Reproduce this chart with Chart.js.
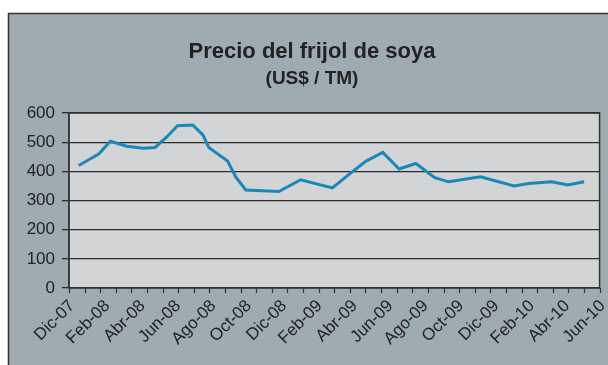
<!DOCTYPE html>
<html>
<head>
<meta charset="utf-8">
<script src="https://cdn.jsdelivr.net/npm/chart.js@4/dist/chart.umd.min.js"></script>
<style>
  html, body { margin: 0; padding: 0; background: #ffffff; }
  #wrap { position: relative; width: 608px; height: 365px; }
</style>
</head>
<body>
<div id="wrap"><canvas id="grafico" width="608" height="365"></canvas></div>
<script>
// Fechas de cotización y precio del frijol de soya (US$ por tonelada métrica)
const fechas = [
  '2007-12-18', '2008-01-22', '2008-02-11', '2008-03-09', '2008-04-07', '2008-04-27',
  '2008-05-17', '2008-06-05', '2008-07-01', '2008-07-19', '2008-07-29', '2008-08-31',
  '2008-09-14', '2008-10-01', '2008-11-27', '2009-01-04', '2009-02-26', '2009-03-29',
  '2009-04-25', '2009-05-24', '2009-06-21', '2009-07-20', '2009-08-22', '2009-09-15',
  '2009-11-09', '2010-01-06', '2010-02-01', '2010-03-10', '2010-04-07', '2010-05-05'
];
const precios = [
  420, 459, 503, 486, 479, 482,
  517, 556, 559, 524, 482, 435,
  380, 336, 331, 371, 343, 393,
  435, 465, 408, 427, 378, 364,
  381, 350, 358, 364, 353, 364
];
// Rótulos bimestrales del eje horizontal
const etiquetasMes = [
  'Dic-07', 'Feb-08', 'Abr-08', 'Jun-08', 'Ago-08', 'Oct-08', 'Dic-08', 'Feb-09',
  'Abr-09', 'Jun-09', 'Ago-09', 'Oct-09', 'Dic-09', 'Feb-10', 'Abr-10', 'Jun-10'
];
const valoresEjeY = [0, 100, 200, 300, 400, 500, 600];
// Número de divisiones menores marcadas bajo el eje horizontal
const divisionesEje = 34;

// Meses transcurridos desde el 1 de diciembre de 2007
function mesesDesdeDic07(fecha) {
  const [a, m, d] = fecha.split('-').map(Number);
  const diasMes = new Date(a, m, 0).getDate();
  return (a - 2007) * 12 + (m - 12) + (d - 1) / diasMes;
}

const puntos = fechas.map((f, i) => ({ x: mesesDesdeDic07(f), y: precios[i] }));

const fondo = {
  id: 'fondo',
  beforeDraw(chart) {
    const { ctx, chartArea: a } = chart;
    ctx.save();
    ctx.fillStyle = '#ffffff';
    ctx.fillRect(0, 0, chart.width, chart.height);
    // marco exterior
    ctx.fillStyle = '#9eabb1';
    ctx.fillRect(8, 13, chart.width, chart.height);
    ctx.strokeStyle = '#333333';
    ctx.lineWidth = 1.5;
    ctx.beginPath();
    ctx.moveTo(8.5, chart.height + 2);
    ctx.lineTo(8.5, 13.5);
    ctx.lineTo(chart.width + 2, 13.5);
    ctx.stroke();
    // área de trazado
    ctx.fillStyle = '#d3d4d6';
    ctx.fillRect(a.left, a.top, a.right - a.left, a.bottom - a.top);
    ctx.restore();
  },
  afterDatasetsDraw(chart) {
    const { ctx, chartArea: a } = chart;
    const esc = chart.scales.xt;
    ctx.save();
    ctx.strokeStyle = '#333333';
    ctx.lineWidth = 1.5;
    ctx.strokeRect(a.left, a.top, a.right - a.left, a.bottom - a.top);
    // marcas menores del eje horizontal
    ctx.lineWidth = 1.2;
    ctx.beginPath();
    for (let i = 0; i <= divisionesEje; i++) {
      const px = Math.round(esc.getPixelForValue(i)) + 0.5;
      ctx.moveTo(px, a.bottom);
      ctx.lineTo(px, a.bottom + 5);
    }
    ctx.stroke();
    ctx.restore();
  }
};

Chart.defaults.font.family = '"Liberation Sans", Arial, Helvetica, sans-serif';
Chart.defaults.color = '#222222';

new Chart(document.getElementById('grafico'), {
  type: 'line',
  data: {
    datasets: [{
      data: puntos,
      borderColor: '#1a87b9',
      borderWidth: 3,
      pointRadius: 0,
      tension: 0,
      xAxisID: 'x',
      yAxisID: 'y'
    }]
  },
  options: {
    responsive: false,
    animation: false,
    events: [],
    layout: { padding: { left: 21, right: 5, top: 0, bottom: 0 } },
    plugins: {
      legend: { display: false },
      tooltip: { enabled: false },
      title: {
        display: true,
        text: 'Precio del frijol de soya',
        color: '#222222',
        font: { size: 22, weight: 'bold' },
        padding: { top: 38.3, bottom: 0 }
      },
      subtitle: {
        display: true,
        text: '(US$ / TM)',
        color: '#222222',
        font: { size: 19, weight: 'bold' },
        padding: { top: 2.2, bottom: 23.3 }
      }
    },
    scales: {
      xt: {
        type: 'linear',
        position: 'bottom',
        min: 0,
        max: divisionesEje,
        weight: 0,
        ticks: { display: false, stepSize: 1, maxTicksLimit: 100 },
        grid: { display: false },
        border: { display: false },
        afterFit(s) { s.height = 6; }
      },
      x: {
        type: 'linear',
        position: 'bottom',
        min: 0,
        max: 30,
        weight: 1,
        ticks: {
          stepSize: 2,
          maxTicksLimit: 100,
          autoSkip: false,
          minRotation: 45,
          maxRotation: 45,
          padding: -6,
          labelOffset: 3,
          color: '#222222',
          font: { size: 17 },
          callback: (v) => etiquetasMes[Math.round(v / 2)] ?? ''
        },
        grid: { display: false },
        border: { display: false },
        afterFit(s) { s.height = 71; }
      },
      y: {
        type: 'linear',
        min: 0,
        max: 600,
        afterBuildTicks(s) { s.ticks = valoresEjeY.map(v => ({ value: v })); },
        ticks: { color: '#222222', font: { size: 17 }, padding: 7 },
        grid: { color: '#2b2b2b', lineWidth: 1.3, tickLength: 7 },
        border: { color: '#333333', width: 1.5 },
        afterFit(s) { s.width = 48; }
      }
    }
  },
  plugins: [fondo]
});
</script>
</body>
</html>
